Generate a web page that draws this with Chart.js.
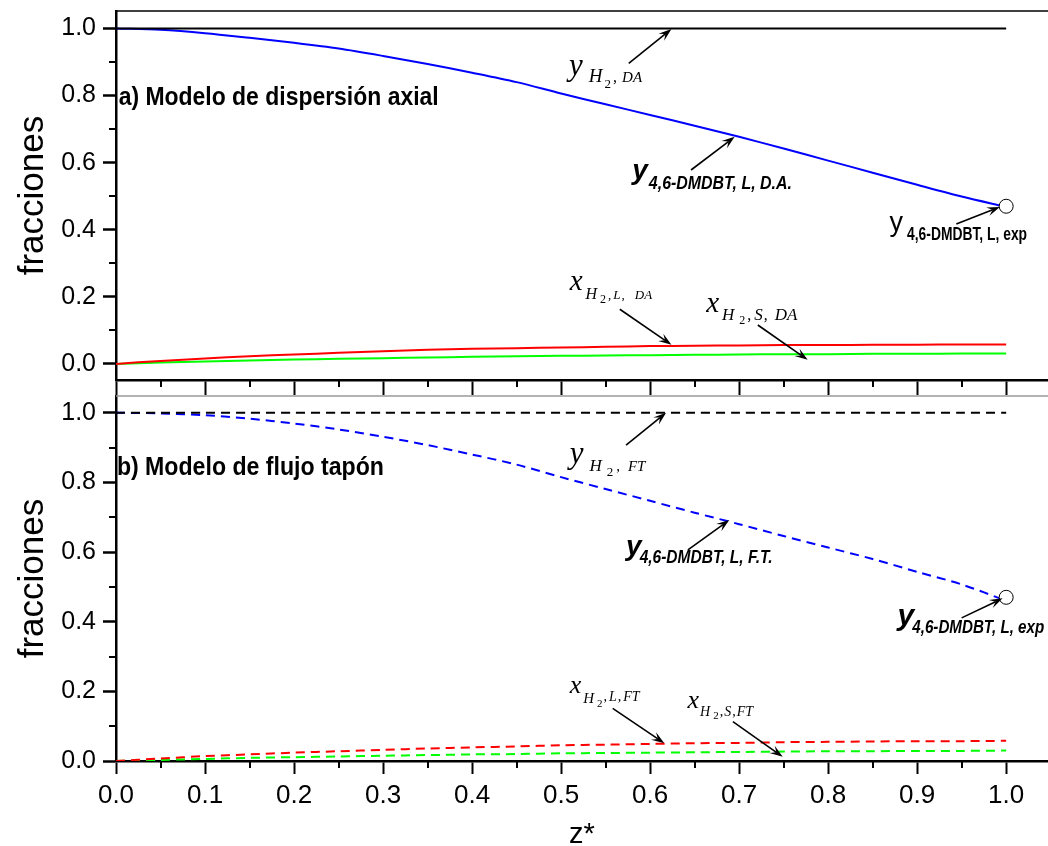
<!DOCTYPE html>
<html>
<head>
<meta charset="utf-8">
<script src="https://cdn.jsdelivr.net/npm/chart.js@4.4.0/dist/chart.umd.min.js"></script>
<style>
  html, body { margin: 0; padding: 0; background: #fff; }
  #wrap { position: relative; width: 1048px; height: 846px; overflow: hidden; }
  canvas { position: absolute; left: 0; }
  #topChart { top: 0; }
  #bottomChart { top: 390px; }
</style>
</head>
<body>
<div id="wrap">
  <canvas id="topChart" width="1048" height="396"></canvas>
  <canvas id="bottomChart" width="1048" height="456"></canvas>
</div>
<script>
// axial position z* along the bed
const zPos = [0, 0.05, 0.1, 0.15, 0.2, 0.25, 0.3, 0.35, 0.4, 0.45, 0.5,
              0.55, 0.6, 0.65, 0.7, 0.75, 0.8, 0.85, 0.9, 0.95, 1.0];

// a) axial dispersion model
const yH2DA    = [1, 1, 1, 1, 1, 1, 1, 1, 1, 1, 1, 1, 1, 1, 1, 1, 1, 1, 1, 1, 1];
const yDmdbtDA = [1.000, 0.996, 0.986, 0.972, 0.957, 0.940, 0.918, 0.894, 0.868, 0.840, 0.806,
                  0.774, 0.742, 0.710, 0.677, 0.642, 0.606, 0.570, 0.534, 0.499, 0.468];
const xH2LDA   = [0.000, 0.009, 0.016, 0.023, 0.028, 0.033, 0.038, 0.042, 0.045, 0.047, 0.049,
                  0.051, 0.053, 0.054, 0.055, 0.056, 0.056, 0.057, 0.057, 0.058, 0.058];
const xH2SDA   = [0.000, 0.004, 0.007, 0.010, 0.013, 0.015, 0.017, 0.019, 0.021, 0.023, 0.024,
                  0.025, 0.026, 0.027, 0.028, 0.029, 0.029, 0.030, 0.030, 0.031, 0.031];

// b) plug flow model
const yH2FT    = [1, 1, 1, 1, 1, 1, 1, 1, 1, 1, 1, 1, 1, 1, 1, 1, 1, 1, 1, 1, 1];
const yDmdbtFT = [1.000, 0.998, 0.993, 0.983, 0.969, 0.952, 0.931, 0.907, 0.880, 0.851, 0.815,
                  0.781, 0.747, 0.713, 0.680, 0.646, 0.613, 0.580, 0.543, 0.507, 0.460];
const xH2LFT   = [0.000, 0.007, 0.014, 0.019, 0.024, 0.028, 0.032, 0.036, 0.039, 0.042, 0.045,
                  0.047, 0.049, 0.051, 0.052, 0.054, 0.055, 0.056, 0.057, 0.057, 0.058];
const xH2SFT   = [0.000, 0.003, 0.006, 0.009, 0.011, 0.013, 0.015, 0.017, 0.019, 0.020, 0.022,
                  0.023, 0.024, 0.025, 0.026, 0.027, 0.028, 0.028, 0.029, 0.029, 0.030];

// experimental outlet value
const expZ = [1.0];
const expDmdbt = [0.47];

const FONT_SANS = '"Liberation Sans", Arial, sans-serif';
const FONT_SERIF = '"Liberation Serif", "Times New Roman", serif';
const sans = n => `${n}px ${FONT_SANS}`;
const sansB = n => `bold ${n}px ${FONT_SANS}`;
const sansBI = n => `italic bold ${n}px ${FONT_SANS}`;
const serif = n => `${n}px ${FONT_SERIF}`;
const serifI = n => `italic ${n}px ${FONT_SERIF}`;

function series(values, color, dash) {
    return {
        data: zPos.map((z, i) => ({ x: z, y: values[i] })),
        borderColor: color,
        borderWidth: 2,
        borderDash: dash || [],
        pointRadius: 0,
        fill: false,
        tension: 0.3
    };
}

function expPoint() {
    return {
        data: expZ.map((z, i) => ({ x: z, y: expDmdbt[i] })),
        showLine: false,
        pointRadius: 7,
        pointBackgroundColor: "#fff",
        pointBorderColor: "#000",
        pointBorderWidth: 1,
        order: -1
    };
}

// draws a run of text pieces (main letter + subscripts) left to right
function drawRich(ctx, x, y, parts) {
    let cx = x;
    parts.forEach(p => {
        ctx.save();
        ctx.font = p.f;
        ctx.fillStyle = "#000";
        ctx.textBaseline = "alphabetic";
        ctx.textAlign = "left";
        const w = ctx.measureText(p.t).width;
        const sx = p.w ? p.w / w : 1;
        cx += p.dx || 0;
        ctx.translate(cx, y + (p.dy || 0));
        ctx.scale(sx, 1);
        ctx.fillText(p.t, 0, 0);
        ctx.restore();
        cx += w * sx;
    });
}

function drawArrow(ctx, x1, y1, x2, y2) {
    const a = Math.atan2(y2 - y1, x2 - x1);
    const c = Math.cos(a), s = Math.sin(a);
    const head = 13, half = 4.5;
    ctx.save();
    ctx.strokeStyle = "#000";
    ctx.fillStyle = "#000";
    ctx.lineWidth = 1.6;
    ctx.beginPath();
    ctx.moveTo(x1, y1);
    ctx.lineTo(x2 - c * head * 0.6, y2 - s * head * 0.6);
    ctx.stroke();
    ctx.beginPath();
    ctx.moveTo(x2, y2);
    ctx.lineTo(x2 - head * c + half * s, y2 - head * s - half * c);
    ctx.lineTo(x2 - head * 0.6 * c, y2 - head * 0.6 * s);
    ctx.lineTo(x2 - head * c - half * s, y2 - head * s + half * c);
    ctx.closePath();
    ctx.fill();
    ctx.restore();
}

// frame line, minor ticks, labels and arrows of one panel
function panelDecor(notes) {
    return {
        id: "panelDecor",
        afterDraw(chart) {
            const { ctx, chartArea: area, scales: { x, y } } = chart;
            ctx.save();
            ctx.strokeStyle = notes.frame;
            ctx.lineWidth = 1.5;
            ctx.beginPath();
            ctx.moveTo(area.left, area.top);
            ctx.lineTo(area.right, area.top);
            ctx.stroke();

            ctx.strokeStyle = "#000";
            ctx.lineWidth = 2;
            ctx.beginPath();
            for (let v = 0.05; v < x.max; v += 0.1) {
                const px = Math.round(x.getPixelForValue(v));
                ctx.moveTo(px, area.bottom);
                ctx.lineTo(px, area.bottom + 7);
            }
            for (let v = 0.1; v < y.max; v += 0.2) {
                const py = Math.round(y.getPixelForValue(v));
                ctx.moveTo(area.left, py);
                ctx.lineTo(area.left - 7, py);
            }
            ctx.stroke();
            ctx.restore();

            notes.texts.forEach(n => {
                drawRich(ctx, x.getPixelForValue(n.at[0]), y.getPixelForValue(n.at[1]), n.parts);
            });
            notes.arrows.forEach(([from, to]) => {
                drawArrow(ctx,
                    x.getPixelForValue(from[0]), y.getPixelForValue(from[1]),
                    x.getPixelForValue(to[0]), y.getPixelForValue(to[1]));
            });
        }
    };
}

// keep the plot box fixed: no extra room for edge labels
function noEdgePadding(s) {
    s.paddingTop = 0;
    s.paddingBottom = 0;
    s.paddingLeft = 0;
    s.paddingRight = 0;
}

function makePanel(id, cfg) {
    return new Chart(document.getElementById(id), {
        type: "line",
        data: { datasets: cfg.datasets },
        options: {
            responsive: false,
            animation: false,
            devicePixelRatio: 1,
            layout: { autoPadding: false, padding: { top: cfg.padTop, right: 0, bottom: 0, left: 0 } },
            plugins: { legend: { display: false }, tooltip: { enabled: false } },
            scales: {
                x: {
                    type: "linear",
                    min: 0,
                    max: 1.047,
                    afterFit: s => { s.height = cfg.xHeight; noEdgePadding(s); },
                    border: { color: "#000", width: 2.5 },
                    grid: { drawOnChartArea: false, tickLength: cfg.xTick, tickWidth: 2, tickColor: "#000" },
                    ticks: {
                        display: cfg.xLabels,
                        stepSize: 0.1,
                        includeBounds: false,
                        autoSkip: false,
                        maxRotation: 0,
                        padding: 6,
                        color: "#000",
                        font: { family: FONT_SANS, size: 26 },
                        callback: v => v.toFixed(1)
                    },
                    title: {
                        display: cfg.xLabels,
                        text: "z*",
                        color: "#000",
                        font: { family: FONT_SANS, size: 29, lineHeight: 0.75 },
                        padding: 0
                    }
                },
                y: {
                    min: cfg.yMin,
                    max: cfg.yMax,
                    afterFit: s => { s.width = 116; noEdgePadding(s); },
                    border: { color: "#000", width: 2.5 },
                    grid: { drawOnChartArea: false, tickLength: 13, tickWidth: 2.5, tickColor: "#000" },
                    ticks: {
                        stepSize: 0.2,
                        includeBounds: false,
                        padding: 7,
                        color: "#000",
                        font: { family: FONT_SANS, size: 25 },
                        callback: v => v.toFixed(1)
                    },
                    title: {
                        display: true,
                        text: "fracciones",
                        color: "#000",
                        font: { family: FONT_SANS, size: 35 },
                        padding: { top: 12, bottom: 0 }
                    }
                }
            }
        },
        plugins: [panelDecor(cfg.notes)]
    });
}

const topNotes = {
    frame: "#000",
    texts: [
        { at: [0.003, 0.771], parts: [{ t: "a) Modelo de dispersión axial", f: sansB(25), w: 320 }] },
        { at: [0.509, 0.862], parts: [
            { t: "y", f: serifI(31) },
            { t: "H", f: serifI(19), dx: 6, dy: 7 },
            { t: "2", f: serif(13), dx: 2, dy: 13 },
            { t: ",", f: serif(16), dx: 2, dy: 7 },
            { t: "DA", f: serifI(15), dx: 5, dy: 7 }] },
        { at: [0.580, 0.551], parts: [
            { t: "y", f: sansBI(28) },
            { t: "4,6-DMDBT, L, D.A.", f: sansBI(18), w: 143, dx: 1, dy: 10 }] },
        { at: [0.869, 0.396], parts: [
            { t: "y", f: sans(27) },
            { t: "4,6-DMDBT, L, exp", f: sansB(18), w: 120, dx: 4, dy: 9 }] },
        { at: [0.5096, 0.220], parts: [
            { t: "x", f: serifI(29) },
            { t: "H", f: serifI(16), dx: 3, dy: 9 },
            { t: "2", f: serif(12), dx: 3, dy: 13 },
            { t: ",", f: serif(13), dx: 2, dy: 9 },
            { t: "L", f: serifI(13), dx: 2, dy: 9 },
            { t: ",", f: serif(13), dx: 1, dy: 9 },
            { t: "DA", f: serifI(13), dx: 10, dy: 9 }] },
        { at: [0.663, 0.156], parts: [
            { t: "x", f: serifI(29) },
            { t: "H", f: serifI(17), dx: 3, dy: 8 },
            { t: "2", f: serif(12), dx: 5, dy: 12 },
            { t: ",", f: serif(16), dx: 2, dy: 8 },
            { t: "S", f: serifI(17), dx: 3, dy: 8 },
            { t: ",", f: serif(16), dx: 1, dy: 8 },
            { t: "DA", f: serifI(17), dx: 7, dy: 8 }] }
    ],
    arrows: [
        [[0.576, 0.896], [0.624, 0.998]],
        [[0.646, 0.578], [0.695, 0.677]],
        [[0.944, 0.417], [0.993, 0.468]],
        [[0.566, 0.163], [0.624, 0.057]],
        [[0.721, 0.116], [0.777, 0.012]]
    ]
};

const bottomNotes = {
    frame: "#9a9a9a",
    texts: [
        { at: [0.001, 0.821], parts: [{ t: "b) Modelo de flujo tapón", f: sansB(25), w: 267 }] },
        { at: [0.5096, 0.856], parts: [
            { t: "y", f: serifI(31) },
            { t: "H", f: serifI(17), dx: 6, dy: 8 },
            { t: "2", f: serif(13), dx: 5, dy: 13 },
            { t: ",", f: serif(15), dx: 3, dy: 8 },
            { t: "FT", f: serifI(15), dx: 8, dy: 8 }] },
        { at: [0.573, 0.591], parts: [
            { t: "y", f: sansBI(28) },
            { t: "4,6-DMDBT, L, F.T.", f: sansBI(18), w: 133, dx: -2, dy: 8 }] },
        { at: [0.878, 0.390], parts: [
            { t: "y", f: sansBI(30) },
            { t: "4,6-DMDBT, L, exp", f: sansBI(18), w: 132, dx: -2, dy: 8 }] },
        { at: [0.5096, 0.194], parts: [
            { t: "x", f: serifI(26) },
            { t: "H", f: serifI(15), dx: 2, dy: 10 },
            { t: "2", f: serif(11), dx: 3, dy: 14 },
            { t: ",", f: serif(14), dx: 1, dy: 8 },
            { t: "L", f: serifI(14), dx: 2, dy: 8 },
            { t: ",", f: serif(14), dx: 1, dy: 8 },
            { t: "FT", f: serifI(14), dx: 2, dy: 8 }] },
        { at: [0.642, 0.151], parts: [
            { t: "x", f: serifI(26) },
            { t: "H", f: serifI(14), dx: 1, dy: 8 },
            { t: "2", f: serif(11), dx: 3, dy: 11 },
            { t: ",", f: serif(14), dx: 1, dy: 8 },
            { t: "S", f: serifI(14), dx: 1, dy: 8 },
            { t: ",", f: serif(14), dx: 1, dy: 8 },
            { t: "FT", f: serifI(14), dx: 1, dy: 8 }] }
    ],
    arrows: [
        [[0.573, 0.907], [0.618, 1.0]],
        [[0.6425, 0.606], [0.689, 0.692]],
        [[0.950, 0.411], [0.996, 0.467]],
        [[0.558, 0.151], [0.616, 0.051]],
        [[0.693, 0.113], [0.749, 0.012]]
    ]
};

const dash = [9, 6];

makePanel("topChart", {
    padTop: 11, xHeight: 16, xTick: 15, xLabels: false,
    yMin: -0.048, yMax: 1.052,
    notes: topNotes,
    datasets: [
        expPoint(),
        series(yH2DA, "#000000"),
        series(yDmdbtDA, "#0000ff"),
        series(xH2LDA, "#ff0000"),
        series(xH2SDA, "#00ff00")
    ]
});

makePanel("bottomChart", {
    padTop: 6, xHeight: 85, xTick: 13, xLabels: true,
    yMin: 0, yMax: 1.048,
    notes: bottomNotes,
    datasets: [
        expPoint(),
        series(yH2FT, "#000000", dash),
        series(yDmdbtFT, "#0000ff", dash),
        series(xH2LFT, "#ff0000", dash),
        series(xH2SFT, "#00ff00", dash)
    ]
});
</script>
</body>
</html>
